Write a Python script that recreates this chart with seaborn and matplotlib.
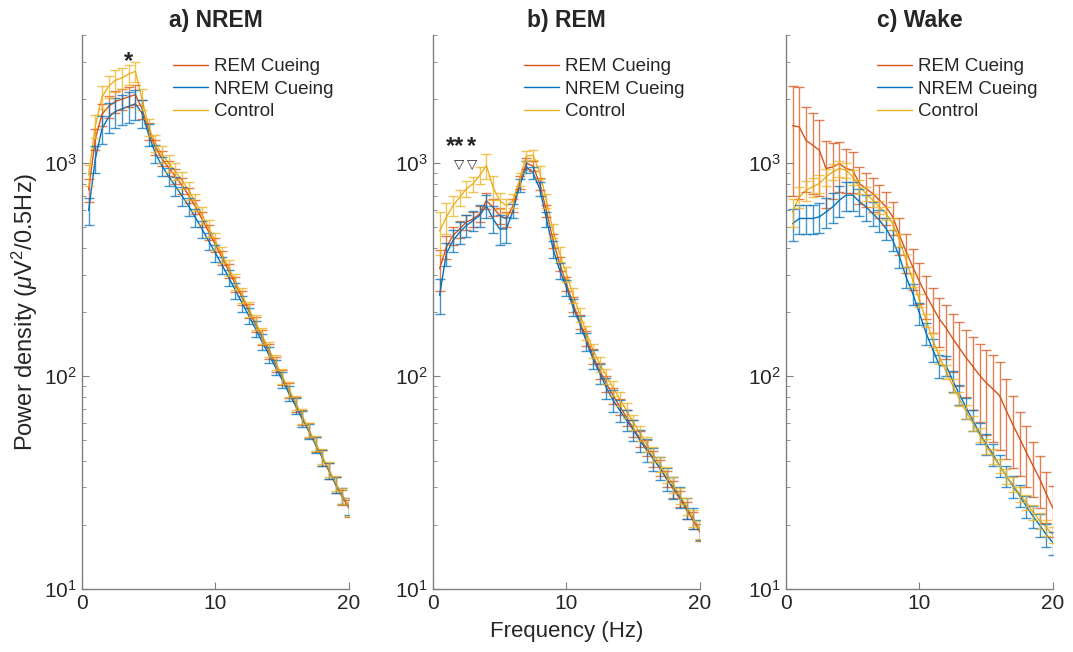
import numpy as np
import pandas as pd
import matplotlib
matplotlib.use("Agg")
import matplotlib.pyplot as plt
import seaborn as sns

freq = np.arange(0.5, 20.01, 0.5)
conditions = ['REM Cueing', 'NREM Cueing', 'Control']
colors = ['#D95319', '#0072BD', '#EDB120']

# a) NREM
nrem_rem = [750, 1300, 1700, 1850, 1950, 2000, 2050, 2100, 1800, 1420, 1190, 1050, 950, 865, 785, 705, 625, 545, 475, 415,
            360, 312, 270, 234, 202, 175, 152, 131, 114, 99, 86, 74, 64, 55.5, 48, 41.5, 36, 31, 27, 24]
nrem_nrem = [600, 1050, 1450, 1650, 1750, 1800, 1850, 1900, 1720, 1360, 1110, 970, 865, 780, 700, 628, 555, 490, 430, 378,
             332, 290, 253, 220, 192, 167, 145, 126, 110, 96, 83, 72.5, 63, 55, 47.5, 41.5, 36, 31, 27.5, 24.5]
nrem_ctrl = [880, 1500, 2050, 2300, 2450, 2520, 2620, 2700, 2000, 1480, 1240, 1100, 1000, 915, 830, 745, 658, 572, 495, 430,
             372, 322, 278, 240, 207, 179, 155, 134, 116, 100, 87, 75, 65, 56, 48.5, 42, 36.5, 31.5, 27.5, 24.5]
nrem_rem_sem = [90, 150, 200, 220, 230, 220, 220, 230, 190, 130, 100, 85, 75, 70, 65, 58, 50, 44, 38, 32,
                28, 24, 21, 18, 15.5, 13.5, 12, 10.5, 9, 8, 7, 6, 5.2, 4.5, 4, 3.5, 3, 2.6, 2.3, 2.2]
nrem_nrem_sem = [90, 150, 220, 260, 280, 290, 300, 310, 260, 160, 110, 95, 85, 78, 70, 62, 54, 46, 40, 34,
                 30, 26, 22, 19, 16.5, 14, 12, 10.5, 9, 8, 7, 6, 5.2, 4.5, 4, 3.5, 3, 2.6, 2.3, 2.2]
nrem_ctrl_sem = [100, 180, 250, 280, 290, 280, 280, 290, 220, 140, 110, 100, 90, 85, 75, 70, 60, 52, 45, 38,
                 33, 28, 24, 20, 17, 15, 13, 11, 9.5, 8, 7, 6, 5.2, 4.5, 4, 3.5, 3, 2.6, 2.3, 2.4]

# b) REM
rem_rem = [320, 403, 457, 491, 528, 548, 578, 667, 621, 567, 548, 632, 814, 1000, 970, 800, 599, 433, 336, 271,
           218, 180, 150, 124, 106, 92, 81, 72, 64, 57, 51, 46, 41, 37, 33, 29.5, 26.5, 23.5, 21, 18.5]
rem_nrem = [240, 375, 433, 474, 509, 538, 568, 632, 548, 491, 491, 599, 785, 960, 900, 757, 548, 395, 313, 261,
            210, 176, 145, 120, 103, 88, 77, 69, 62, 56, 50, 45, 41, 37, 33, 30, 27, 24, 21.5, 19]
rem_ctrl = [480, 557, 632, 692, 757, 800, 875, 975, 771, 667, 632, 667, 844, 1080, 1090, 907, 667, 482, 375, 302,
            240, 195, 160, 132, 114, 100, 88, 78, 69, 61, 54, 48, 43, 38.5, 34.5, 31, 27.5, 24.5, 21.5, 19]
rem_rem_sem = [70, 50, 45, 45, 45, 45, 50, 60, 55, 50, 45, 45, 55, 60, 55, 50, 40, 32, 26, 21,
               17, 14, 12, 10, 9, 8, 7, 6.2, 5.6, 5, 4.5, 4, 3.6, 3.2, 2.9, 2.6, 2.3, 2.1, 1.9, 1.7]
rem_nrem_sem = [45, 45, 50, 55, 60, 60, 65, 80, 80, 80, 70, 45, 55, 60, 60, 55, 45, 35, 28, 23,
                19, 16, 14, 12, 11, 10, 9, 8, 7, 6.5, 6, 5.5, 5, 4.5, 4, 3.5, 3.1, 2.7, 2.4, 2.1]
rem_ctrl_sem = [110, 90, 70, 60, 65, 65, 80, 130, 100, 60, 50, 50, 60, 60, 60, 60, 50, 38, 30, 24,
                19, 15, 12, 10, 9, 8, 7, 6, 5.5, 5, 4.5, 4, 3.6, 3.2, 3, 2.7, 2.4, 2.2, 2, 1.8]

# c) Wake
wake_rem = [1500, 1480, 1280, 1215, 1150, 944, 961, 996, 944, 927, 803, 760, 720, 670, 623, 560, 460, 385, 325, 278,
            240, 210, 185, 168, 150, 135, 122, 111, 101, 93, 87, 81, 69, 59, 51, 44, 38, 33, 28, 24]
wake_nrem = [520, 550, 550, 550, 560, 590, 623, 670, 708, 708, 660, 623, 580, 540, 493, 435, 364, 292, 244, 197,
             159, 133, 112, 112, 95, 82, 71, 62, 54, 48, 43, 38, 34, 30.5, 27.5, 24.5, 22, 20, 18, 16.5]
wake_ctrl = [590, 695, 747, 774, 803, 863, 910, 944, 927, 863, 774, 720, 670, 623, 580, 520, 435, 350, 282, 227,
             183, 148, 123, 105, 90, 78, 68, 60, 53, 47, 42, 38, 34, 31, 28, 25.5, 23, 21, 19.5, 18]
wake_rem_sem = [800, 800, 550, 500, 450, 330, 280, 260, 220, 200, 160, 140, 130, 120, 110, 100, 90, 80, 70, 60,
                55, 50, 48, 48, 45, 45, 42, 42, 40, 40, 38, 36, 28, 22, 17, 14, 11, 9, 7.5, 6.5]
wake_nrem_sem = [90, 85, 85, 85, 90, 95, 100, 110, 110, 110, 95, 85, 75, 65, 58, 50, 42, 34, 28, 23,
                 19, 16, 14, 12, 10.5, 9, 8, 7, 6.2, 5.5, 5, 4.5, 4, 3.6, 3.2, 2.9, 2.6, 2.4, 2.2, 2]
wake_ctrl_sem = [90, 80, 80, 80, 80, 80, 80, 80, 75, 70, 60, 55, 50, 45, 40, 35, 30, 25, 20, 16,
                 13, 11, 9, 8, 7, 6, 5.3, 4.7, 4.2, 3.7, 3.3, 3, 2.7, 2.5, 2.3, 2.1, 1.9, 1.8, 1.7, 1.6]

titles = ['a) NREM', 'b) REM', 'c) Wake']
panels = [(nrem_rem, nrem_nrem, nrem_ctrl, nrem_rem_sem, nrem_nrem_sem, nrem_ctrl_sem),
          (rem_rem, rem_nrem, rem_ctrl, rem_rem_sem, rem_nrem_sem, rem_ctrl_sem),
          (wake_rem, wake_nrem, wake_ctrl, wake_rem_sem, wake_nrem_sem, wake_ctrl_sem)]

sns.set_style('ticks')
plt.rcParams['font.family'] = ['Liberation Sans', 'DejaVu Sans']
plt.rcParams['mathtext.fontset'] = 'custom'
plt.rcParams['mathtext.rm'] = 'Liberation Sans'
plt.rcParams['mathtext.it'] = 'Liberation Sans:italic'

fig = plt.figure(figsize=(10.73, 6.52), dpi=100)
lefts = [0.0764, 0.4035, 0.7325]
axes = [fig.add_axes([l, 0.0966, 0.2488, 0.8497]) for l in lefts]

for ax, title, p in zip(axes, titles, panels):
    vals, sems = p[:3], p[3:]
    df = pd.DataFrame({'freq': np.tile(freq, 3),
                       'power': np.concatenate(vals),
                       'cond': np.repeat(conditions, len(freq))})
    sns.lineplot(data=df, x='freq', y='power', hue='cond', palette=colors,
                 hue_order=conditions, errorbar=None, linewidth=1, ax=ax)
    for v, s, c in zip(vals, sems, colors):
        ax.errorbar(freq, v, yerr=s, fmt='none', ecolor=c, elinewidth=1,
                    capsize=3.5, capthick=1, alpha=0.75)
    ax.set_yscale('log')
    ax.set_ylim(10, 4000)
    ax.set_xlim(0, 20)
    ax.set_xticks([0, 10, 20])
    ax.set_yticks([10, 100, 1000])
    ax.set_title(title, fontsize=16.5, fontweight='bold', pad=6)
    ax.set_xlabel('')
    ax.set_ylabel('')
    for sp in ['top', 'right']:
        ax.spines[sp].set_visible(False)
    for sp in ['left', 'bottom']:
        ax.spines[sp].set_color('#808080')
        ax.spines[sp].set_linewidth(1)
    ax.tick_params(which='both', direction='in', colors='#808080', labelcolor='#262626', labelsize=15)
    ax.tick_params(which='major', length=5)
    ax.tick_params(which='minor', length=3)
    ax.legend(frameon=False, loc='upper left', bbox_to_anchor=(0.305, 0.975), borderpad=0,
              fontsize=13.5, handlelength=1.9, handletextpad=0.3, labelspacing=0.28)

axes[0].set_ylabel('Power density ($\\mu$V$^2$/0.5Hz)', fontsize=17, color='#262626', labelpad=3)
axes[1].set_xlabel('Frequency (Hz)', fontsize=16, color='#262626', labelpad=6)

axes[0].text(3.5, 3000, '*', ha='center', va='center', fontsize=17, fontweight='bold')
axes[1].text(1.65, 1200, '**', ha='center', va='center', fontsize=17, fontweight='bold')
axes[1].text(2.9, 1200, '*', ha='center', va='center', fontsize=17, fontweight='bold')
axes[1].text(1.95, 990, '\u25bd', ha='center', va='center', fontsize=9.5, family='DejaVu Sans')
axes[1].text(2.9, 990, '\u25bd', ha='center', va='center', fontsize=9.5, family='DejaVu Sans')

fig.savefig('out.png', dpi=100)
